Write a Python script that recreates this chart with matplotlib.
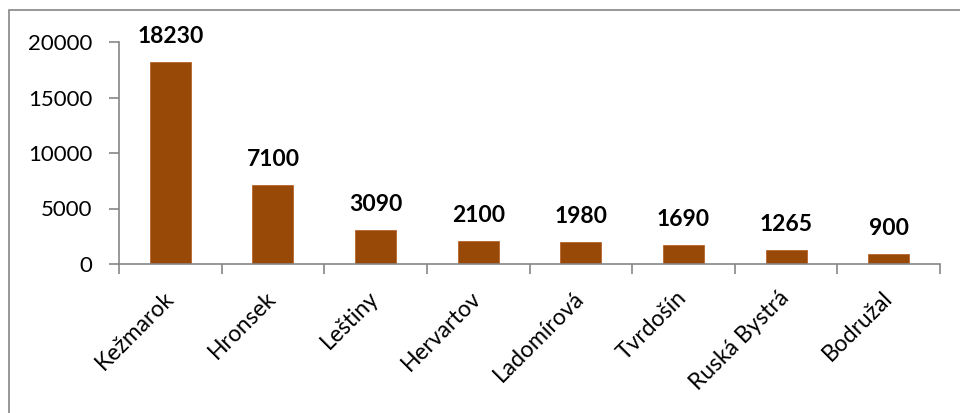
import numpy as np
import matplotlib.pyplot as plt
from matplotlib.patches import Rectangle

# Obce a hodnoty
obce = ['Kežmarok', 'Hronsek', 'Leštiny', 'Hervartov', 'Ladomírová',
        'Tvrdošín', 'Ruská Bystrá', 'Bodružal']
hodnoty = [18230, 7100, 3090, 2100, 1980, 1690, 1265, 900]
yticks = [0, 5000, 10000, 15000, 20000]

plt.rcParams['font.family'] = ['Lato', 'DejaVu Sans']

fig = plt.figure(figsize=(9.6, 4.13), dpi=100)
ax = fig.add_axes([119/960, 1 - 264/413, (940 - 119)/960, (264 - 42)/413])

x = np.arange(len(obce))
ax.bar(x, hodnoty, width=0.4, color='#984807', edgecolor='#b8662a', linewidth=0.6)

for xi, v in zip(x, hodnoty):
    ax.text(xi, v + 1700, str(v), ha='center', va='baseline',
            fontsize=16.5, fontweight='bold')

ax.set_xlim(-0.5, len(obce) - 0.5)
ax.set_ylim(0, 20000)
ax.set_yticks(yticks)
ax.set_yticklabels([str(t) for t in yticks], fontsize=16)

ax.set_xticks(x)
ax.set_xticklabels(obce, rotation=45, ha='right', va='center',
                   rotation_mode='anchor', fontsize=16.5)
ax.set_xticks(np.arange(-0.5, len(obce)), minor=True)
ax.tick_params(axis='x', which='major', length=0, pad=22)
ax.tick_params(axis='x', which='minor', length=7, color='#868686', width=1.2)
ax.tick_params(axis='y', length=7, color='#868686', width=1.2, pad=12)

for s in ['top', 'right']:
    ax.spines[s].set_visible(False)
for s in ['left', 'bottom']:
    ax.spines[s].set_color('#868686')
    ax.spines[s].set_linewidth(1.2)

# ramik okolo grafu
fig.patches.append(Rectangle((9/960, -0.1), 1.2, 1 - 10/413 + 0.1,
                             transform=fig.transFigure, fill=False,
                             edgecolor='#868686', linewidth=1.2))

fig.savefig('out.png', dpi=100)
